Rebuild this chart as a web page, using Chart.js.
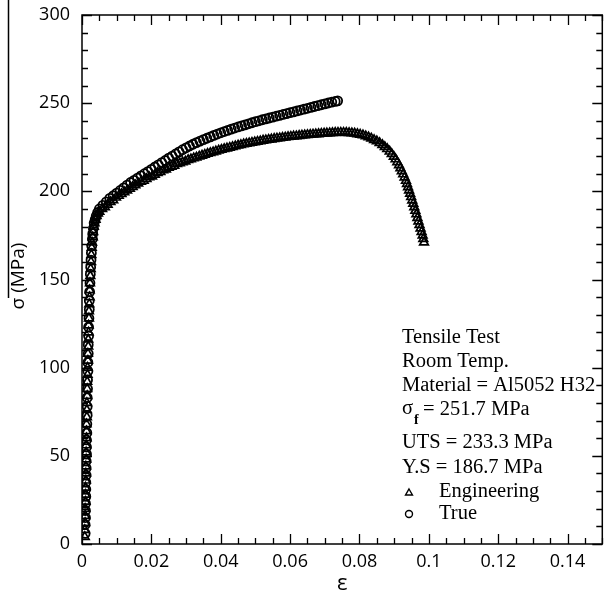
<!DOCTYPE html>
<html>
<head>
<meta charset="utf-8">
<script src="https://cdn.jsdelivr.net/npm/chart.js@4.4.1/dist/chart.umd.min.js"></script>
<style>
  html, body { margin: 0; padding: 0; background: #fff; }
  #wrap { width: 609px; height: 597px; }
</style>
</head>
<body>
<div id="wrap"><canvas id="chart1" width="609" height="597"></canvas></div>
<script>
// engineering curve, strain / stress (MPa)
const engStrain = [
  0.0008, 0.0008, 0.0009, 0.0009, 0.0009, 0.0010, 0.0010, 0.0010, 0.0011, 0.0011,
  0.0011, 0.0012, 0.0012, 0.0012, 0.0013, 0.0013, 0.0013, 0.0014, 0.0014, 0.0014,
  0.0015, 0.0015, 0.0015, 0.0016, 0.0016, 0.0017, 0.0017, 0.0018, 0.0018, 0.0019,
  0.0019, 0.0020, 0.0020, 0.0021, 0.0022, 0.0022, 0.0023, 0.0024, 0.0025, 0.0026,
  0.0027, 0.0028, 0.0029, 0.0031, 0.0032, 0.0034, 0.0036, 0.0039, 0.0042, 0.0046,
  0.0050, 0.0058, 0.0066, 0.0074, 0.0082, 0.0090, 0.0098, 0.0106, 0.0114, 0.0122,
  0.0130, 0.0138, 0.0146, 0.0154, 0.0162, 0.0170, 0.0178, 0.0186, 0.0194, 0.0202,
  0.0210, 0.0218, 0.0226, 0.0234, 0.0242, 0.0250, 0.0258, 0.0266, 0.0274, 0.0282,
  0.0290, 0.0298, 0.0306, 0.0314, 0.0322, 0.0330, 0.0338, 0.0346, 0.0354, 0.0362,
  0.0370, 0.0378, 0.0386, 0.0394, 0.0402, 0.0410, 0.0418, 0.0426, 0.0434, 0.0442,
  0.0450, 0.0458, 0.0466, 0.0474, 0.0482, 0.0490, 0.0498, 0.0506, 0.0514, 0.0522,
  0.0530, 0.0538, 0.0546, 0.0554, 0.0562, 0.0570, 0.0578, 0.0586, 0.0594, 0.0602,
  0.0610, 0.0618, 0.0626, 0.0634, 0.0642, 0.0650, 0.0658, 0.0666, 0.0674, 0.0682,
  0.0690, 0.0698, 0.0706, 0.0714, 0.0722, 0.0730, 0.0738, 0.0746, 0.0754, 0.0762,
  0.0770, 0.0778, 0.0786, 0.0794, 0.0802, 0.0810, 0.0818, 0.0826, 0.0834, 0.0842,
  0.0850, 0.0858, 0.0866, 0.0873, 0.0880, 0.0887, 0.0893, 0.0899, 0.0904, 0.0909,
  0.0914, 0.0918, 0.0922, 0.0926, 0.0930, 0.0934, 0.0937, 0.0940, 0.0943, 0.0946,
  0.0949, 0.0952, 0.0955, 0.0958, 0.0961, 0.0964, 0.0967, 0.0970, 0.0973, 0.0976,
  0.0979, 0.0982, 0.0984, 0.0986
];
const engStress = [
  4, 8, 12, 16, 20, 24, 28, 32, 36, 40,
  44, 48, 52, 56, 60, 64, 68, 72, 76, 80,
  84, 88, 92, 96, 100, 104, 108, 112, 116, 120,
  124, 128, 132, 136, 140, 144, 148, 152, 156, 160,
  164, 168, 171, 174, 177, 180, 182, 184, 186, 187.5,
  188.5, 190, 191, 192.5, 194, 195, 196.5, 197.5, 198.5, 199.5,
  200.5, 201.5, 202.5, 203.5, 204.5, 205.5, 206, 207, 208, 208.5,
  209.5, 210.5, 211, 212, 212.5, 213.5, 214, 214.5, 215.5, 216,
  216.5, 217, 217.8, 218.2, 218.8, 219.2, 219.8, 220.3, 220.8, 221.3,
  221.8, 222.2, 222.7, 223.2, 223.6, 224, 224.4, 224.8, 225.2, 225.6,
  226, 226.3, 226.7, 227, 227.3, 227.6, 227.9, 228.2, 228.5, 228.8,
  229, 229.3, 229.5, 229.8, 230, 230.2, 230.4, 230.6, 230.8, 231,
  231.2, 231.3, 231.5, 231.7, 231.8, 232, 232.1, 232.3, 232.4, 232.5,
  232.7, 232.8, 232.9, 233, 233.1, 233.2, 233.3, 233.3, 233.3, 233.2,
  233.1, 233, 232.8, 232.5, 232.2, 231.8, 231.3, 230.7, 230, 229.2,
  228.4, 227.4, 226.3, 225.2, 224, 222.6, 221.2, 219.7, 218.2, 216.6,
  214.9, 213.2, 211.5, 209.7, 207.9, 206, 204.2, 202.4, 200.6, 198.7,
  196.8, 194.9, 193, 191, 189, 187, 185, 183, 181, 179,
  177, 175, 173, 171
];

// true curve, strain / stress (MPa)
const trueStrain = [
  0.0009, 0.0009, 0.0010, 0.0010, 0.0010, 0.0011, 0.0011, 0.0011, 0.0012, 0.0012,
  0.0012, 0.0013, 0.0013, 0.0013, 0.0014, 0.0014, 0.0015, 0.0015, 0.0015, 0.0016,
  0.0016, 0.0017, 0.0017, 0.0018, 0.0018, 0.0019, 0.0019, 0.0020, 0.0021, 0.0021,
  0.0022, 0.0023, 0.0024, 0.0025, 0.0026, 0.0027, 0.0028, 0.0030, 0.0031, 0.0033,
  0.0035, 0.0038, 0.0041, 0.0045,
  0.0050, 0.0060, 0.0070, 0.0080, 0.0090, 0.0100, 0.0110, 0.0120, 0.0130, 0.0140,
  0.0150, 0.0160, 0.0170, 0.0180, 0.0190, 0.0200, 0.0210, 0.0220, 0.0230, 0.0240,
  0.0250, 0.0260, 0.0270, 0.0280, 0.0290, 0.0300, 0.0310, 0.0320, 0.0330, 0.0340,
  0.0350, 0.0360, 0.0370, 0.0380, 0.0390, 0.0400, 0.0410, 0.0420, 0.0430, 0.0440,
  0.0450, 0.0460, 0.0470, 0.0480, 0.0490, 0.0500, 0.0510, 0.0520, 0.0530, 0.0540,
  0.0550, 0.0560, 0.0570, 0.0580, 0.0590, 0.0600, 0.0610, 0.0620, 0.0630, 0.0640,
  0.0650, 0.0660, 0.0670, 0.0680, 0.0690, 0.0700, 0.0710, 0.0720, 0.0730, 0.0737
];
const trueStress = [
  6, 11, 15, 19, 23, 27, 31, 35, 39, 43,
  47, 51, 55, 59, 63, 68, 73, 78, 83, 88,
  93, 98, 103, 108, 113, 118, 123, 128, 133, 138,
  143, 148, 153, 157, 161, 165, 169, 173, 176, 179,
  182, 184, 186, 188,
  190, 192, 194, 196, 197.5, 199, 200.5, 202, 203.5, 205,
  206.2, 207.5, 208.8, 210, 211.2, 212.5, 213.8, 215, 216.3, 217.5,
  218.8, 220, 221.2, 222.4, 223.6, 224.7, 225.7, 226.7, 227.6, 228.5,
  229.3, 230.1, 230.9, 231.7, 232.5, 233.2, 233.9, 234.6, 235.3, 235.9,
  236.5, 237.1, 237.7, 238.3, 238.9, 239.5, 240, 240.6, 241.1, 241.6,
  242.1, 242.6, 243.1, 243.6, 244.1, 244.6, 245.1, 245.6, 246.1, 246.6,
  247.1, 247.6, 248.1, 248.6, 249.1, 249.6, 250.1, 250.6, 251, 251.3
];

// axis ticks
const xTicks = [0, 0.02, 0.04, 0.06, 0.08, 0.1, 0.12, 0.14];
const xTickLabels = ['0', '0.02', '0.04', '0.06', '0.08', '0.1', '0.12', '0.14'];
const yTicks = [0, 50, 100, 150, 200, 250, 300];
const yTickLabels = ['0', '50', '100', '150', '200', '250', '300'];

// annotation text
const noteLines = ['Tensile Test', 'Room Temp.', 'Material = Al5052 H32'];
const noteLines2 = ['UTS = 233.3 MPa', 'Y.S = 186.7 MPa'];
const legendLabels = ['Engineering', 'True'];

function toPoints(xs, ys) {
    return xs.map((x, i) => ({ x: x, y: ys[i] }));
}

const framePlugin = {
    id: 'frame',
    afterDraw(chart) {
        const ctx = chart.ctx;
        const a = chart.chartArea;
        const xs = chart.scales.x;
        const ys = chart.scales.y;
        ctx.save();
        ctx.strokeStyle = '#000';
        ctx.fillStyle = '#000';
        ctx.lineWidth = 1.5;
        ctx.strokeRect(a.left, a.top, a.right - a.left, a.bottom - a.top);

        // x ticks, bottom and top
        ctx.lineWidth = 1.3;
        for (let v = 0; v <= 0.15 + 1e-9; v += 0.005) {
            const px = Math.round(xs.getPixelForValue(v)) + 0.5;
            const major = Math.abs(v / 0.02 - Math.round(v / 0.02)) < 1e-6;
            const len = major ? 10 : 6;
            ctx.beginPath();
            ctx.moveTo(px, a.bottom); ctx.lineTo(px, a.bottom - len);
            ctx.moveTo(px, a.top); ctx.lineTo(px, a.top + len);
            ctx.stroke();
        }
        // y ticks, left and right
        for (let v = 0; v <= 300; v += 10) {
            const py = Math.round(ys.getPixelForValue(v)) + 0.5;
            const len = v % 50 === 0 ? 10 : 6;
            ctx.beginPath();
            ctx.moveTo(a.left, py); ctx.lineTo(a.left + len, py);
            ctx.moveTo(a.right, py); ctx.lineTo(a.right - len, py);
            ctx.stroke();
        }

        // tick labels
        ctx.font = '18px "Open Sans"';
        ctx.textAlign = 'center';
        ctx.textBaseline = 'middle';
        xTicks.forEach((v, i) => {
            ctx.fillText(xTickLabels[i], xs.getPixelForValue(v), a.bottom + 18);
        });
        ctx.textAlign = 'right';
        yTicks.forEach((v, i) => {
            ctx.fillText(yTickLabels[i], a.left - 12, ys.getPixelForValue(v));
        });

        // axis titles
        ctx.font = '22px "Open Sans"';
        ctx.textAlign = 'center';
        ctx.fillText('ε', (a.left + a.right) / 2, 584);
        ctx.save();
        ctx.translate(19, 276);
        ctx.rotate(-Math.PI / 2);
        ctx.font = '19px "Open Sans"';
        ctx.fillText('σ (MPa)', 0, 0);
        ctx.restore();

        // stray line at far left
        ctx.lineWidth = 1.5;
        ctx.beginPath();
        ctx.moveTo(8.5, 0); ctx.lineTo(8.5, 298);
        ctx.stroke();

        // notes
        ctx.font = '20.5px "Liberation Serif"';
        ctx.textAlign = 'left';
        ctx.textBaseline = 'middle';
        const tx = 402;
        noteLines.forEach((t, i) => ctx.fillText(t, tx, 338 + i * 24));
        ctx.fillText('σ', tx, 409);
        ctx.font = 'bold 14px "Liberation Serif"';
        ctx.fillText('f', tx + 12, 420);
        ctx.font = '20.5px "Liberation Serif"';
        ctx.fillText('= 251.7 MPa', tx + 21, 410);
        noteLines2.forEach((t, i) => ctx.fillText(t, tx, 443 + i * 25));
        ctx.fillText(legendLabels[0], 439, 492);
        ctx.fillText(legendLabels[1], 439, 514);

        // legend symbols, hollow
        ctx.lineWidth = 1.4;
        ctx.fillStyle = 'rgba(0,0,0,0)';
        Chart.helpers.drawPoint(ctx, { pointStyle: 'triangle', radius: 4, borderWidth: 1.4 }, 409, 493);
        Chart.helpers.drawPoint(ctx, { pointStyle: 'circle', radius: 3.5, borderWidth: 1.4 }, 409, 514);
        ctx.restore();
    }
};

document.addEventListener('DOMContentLoaded', function () {
    const ctx = document.getElementById('chart1').getContext('2d');
    new Chart(ctx, {
        type: 'scatter',
        data: {
            datasets: [{
                label: 'True',
                data: toPoints(trueStrain, trueStress),
                pointStyle: 'circle',
                pointRadius: 4.5,
                borderColor: '#000',
                backgroundColor: 'rgba(255,255,255,0)',
                pointBorderWidth: 1.8,
                showLine: false
            }, {
                label: 'Engineering',
                data: toPoints(engStrain, engStress),
                pointStyle: 'triangle',
                pointRadius: 5,
                borderColor: '#000',
                backgroundColor: 'rgba(255,255,255,0)',
                pointBorderWidth: 1.7,
                showLine: false
            }]
        },
        options: {
            responsive: false,
            animation: false,
            events: [],
            layout: { padding: { left: 82, top: 15, right: 2, bottom: 53 } },
            plugins: { legend: { display: false }, tooltip: { enabled: false } },
            scales: {
                x: { type: 'linear', min: 0, max: 0.15, display: false },
                y: { type: 'linear', min: 0, max: 300, display: false }
            }
        },
        plugins: [framePlugin]
    });
});
</script>
</body>
</html>
